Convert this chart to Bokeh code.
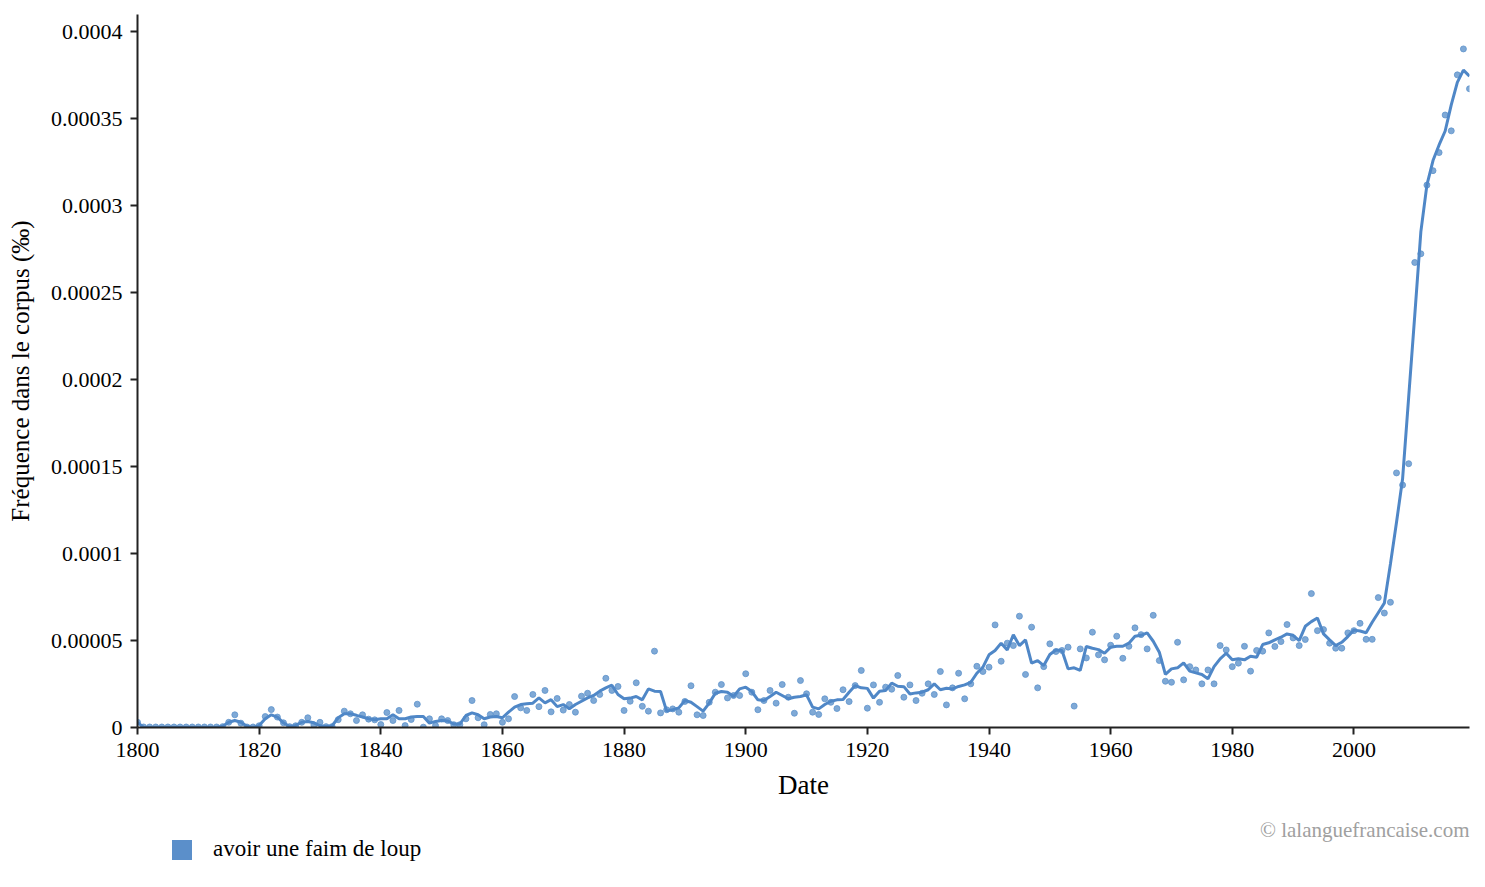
from bokeh.plotting import figure
from bokeh.layouts import column
from bokeh.models import (Range1d, FixedTicker, Legend, LegendItem, Label,
                          ColumnDataSource)
from bokeh.embed import file_html
from bokeh.resources import INLINE

# fréquence annuelle, en unités de 1e-5 (‰)
annees = list(range(1800, 2020))

points = [
    0.3, 0.03, 0.03, 0.03, 0.03, 0.03, 0.03, 0.03, 0.03, 0.03,      # 1800
    0.03, 0.03, 0.03, 0.03, 0.05, 0.3, 0.73, 0.25, 0.03, 0.03,      # 1810
    0.1, 0.63, 1.03, 0.6, 0.27, 0.05, 0.1, 0.3, 0.56, 0.15,         # 1820
    0.3, 0.05, 0.05, 0.45, 0.94, 0.79, 0.4, 0.73, 0.48, 0.44,       # 1830
    0.17, 0.86, 0.4, 0.98, 0.11, 0.46, 1.34, 0.02, 0.5, 0.11,       # 1840
    0.5, 0.4, 0.16, 0.16, 0.5, 1.55, 0.56, 0.16, 0.75, 0.79,        # 1850
    0.3, 0.5, 1.78, 1.13, 0.98, 1.9, 1.2, 2.13, 0.9, 1.67,          # 1860
    1.0, 1.32, 0.88, 1.8, 1.97, 1.55, 1.9, 2.83, 2.13, 2.36,        # 1870
    0.98, 1.51, 2.57, 1.22, 0.94, 4.39, 0.84, 1.02, 1.07, 0.88,     # 1880
    1.5, 2.4, 0.73, 0.69, 1.45, 2.03, 2.47, 1.7, 1.84, 1.84,        # 1890
    3.09, 2.03, 1.02, 1.55, 2.13, 1.4, 2.47, 1.74, 0.82, 2.7,       # 1900
    1.94, 0.88, 0.75, 1.65, 1.45, 1.09, 2.17, 1.49, 2.41, 3.28,     # 1910
    1.11, 2.45, 1.45, 2.32, 2.2, 2.99, 1.74, 2.45, 1.55, 1.97,      # 1920
    2.51, 1.9, 3.22, 1.3, 2.28, 3.12, 1.65, 2.51, 3.52, 3.22,       # 1930
    3.47, 5.9, 3.81, 4.85, 4.71, 6.4, 3.05, 5.77, 2.28, 3.5,        # 1940
    4.81, 4.37, 4.43, 4.62, 1.23, 4.52, 4.0, 5.48, 4.18, 3.89,      # 1950
    4.73, 5.25, 3.98, 4.67, 5.73, 5.34, 4.52, 6.45, 3.85, 2.66,     # 1960
    2.6, 4.9, 2.74, 3.5, 3.31, 2.51, 3.31, 2.51, 4.71, 4.46,        # 1970
    3.5, 3.7, 4.67, 3.24, 4.43, 4.39, 5.44, 4.66, 4.94, 5.92,       # 1980
    5.15, 4.71, 5.06, 7.7, 5.57, 5.63, 4.85, 4.56, 4.56, 5.44,      # 1990
    5.57, 5.99, 5.07, 5.07, 7.47, 6.58, 7.2, 14.64, 13.94, 15.17,   # 2000
    26.74, 27.24, 31.19, 32.02, 33.06, 35.22, 34.31, 37.53, 39.02, 36.73,  # 2010
]

courbe = [
    0.3, 0.0, 0.0, 0.0, 0.0, 0.0, 0.0, 0.0, 0.0, 0.0,               # 1800
    0.0, 0.0, 0.0, 0.0, 0.07, 0.3, 0.4, 0.3, 0.07, 0.0,             # 1810
    0.11, 0.5, 0.73, 0.6, 0.27, 0.06, 0.12, 0.3, 0.35, 0.27,        # 1820
    0.1, 0.06, 0.1, 0.56, 0.79, 0.79, 0.7, 0.6, 0.5, 0.45,          # 1830
    0.5, 0.5, 0.73, 0.5, 0.5, 0.6, 0.63, 0.63, 0.25, 0.35,          # 1840
    0.4, 0.38, 0.2, 0.2, 0.69, 0.84, 0.73, 0.5, 0.6, 0.63,          # 1850
    0.56, 0.88, 1.17, 1.32, 1.36, 1.4, 1.7, 1.42, 1.6, 1.2,         # 1860
    1.32, 1.07, 1.32, 1.51, 1.7, 1.84, 2.09, 2.28, 2.43, 1.9,       # 1870
    1.65, 1.69, 1.78, 1.59, 2.22, 2.09, 2.07, 0.94, 1.03, 1.13,     # 1880
    1.55, 1.45, 1.2, 0.94, 1.4, 1.97, 2.07, 2.03, 1.78, 2.22,       # 1890
    2.32, 2.07, 1.59, 1.55, 1.78, 2.03, 1.84, 1.65, 1.74, 1.78,     # 1900
    1.88, 1.17, 1.07, 1.32, 1.51, 1.59, 1.61, 2.03, 2.41, 2.28,     # 1910
    2.25, 1.69, 2.09, 2.13, 2.55, 2.37, 2.35, 1.93, 1.99, 2.03,     # 1920
    2.17, 2.51, 2.17, 2.26, 2.22, 2.36, 2.45, 2.6, 3.12, 3.47,      # 1930
    4.18, 4.43, 4.85, 4.46, 5.33, 4.71, 5.04, 3.7, 3.85, 3.56,      # 1940
    4.2, 4.46, 4.43, 3.37, 3.43, 3.28, 4.66, 4.56, 4.48, 4.27,      # 1950
    4.62, 4.67, 4.67, 4.85, 5.25, 5.3, 5.44, 4.96, 4.33, 3.05,      # 1960
    3.37, 3.43, 3.72, 3.24, 3.14, 3.05, 2.8, 3.5, 3.95, 4.27,       # 1970
    3.89, 3.95, 3.89, 4.1, 4.04, 4.77, 4.87, 5.04, 5.19, 5.38,      # 1980
    5.3, 5.0, 5.82, 6.09, 6.3, 5.38, 5.04, 4.71, 4.9, 5.23,         # 1990
    5.6, 5.55, 5.45, 6.05, 6.6, 7.15, 9.4, 11.8, 14.3, 19.0,        # 2000
    23.7, 28.5, 31.2, 32.6, 33.5, 34.3, 35.8, 37.1, 37.8, 37.45,    # 2010
]

x_ticks = [1800, 1820, 1840, 1860, 1880, 1900, 1920, 1940, 1960, 1980, 2000]
y_ticks = [0, 5, 10, 15, 20, 25, 30, 35, 40]
y_tick_labels = ["0", "0.00005", "0.0001", "0.00015", "0.0002",
                 "0.00025", "0.0003", "0.00035", "0.0004"]

serie = "avoir une faim de loup"
copyright_txt = "\u00a9 lalanguefrancaise.com"

BLEU = "#4f87c7"
POLICE = "Liberation Serif"
LARGEUR = 1480

p = figure(width=LARGEUR, height=817, output_backend="svg", toolbar_location=None,
           x_range=Range1d(1800, 2019), y_range=Range1d(0, 41),
           min_border_left=137, min_border_right=11, min_border_top=14,
           min_border_bottom=90)
p.outline_line_color = None
p.grid.visible = False

src = ColumnDataSource(dict(annee=annees, points=points, courbe=courbe))
p.scatter("annee", "points", source=src, size=6, color="#5f93cc", alpha=0.8)
p.line("annee", "courbe", source=src, line_color=BLEU, line_width=3)

for ax in (p.xaxis[0], p.yaxis[0]):
    ax.axis_line_color = "#222222"
    ax.axis_line_width = 2
    ax.major_tick_line_color = "#222222"
    ax.major_tick_line_width = 2
    ax.major_tick_out = 7
    ax.major_tick_in = 0
    ax.minor_tick_line_color = None
    ax.major_label_text_font = POLICE
    ax.major_label_text_font_size = "22px"
    ax.major_label_text_color = "black"
    ax.axis_label_text_font = POLICE
    ax.axis_label_text_font_style = "normal"
    ax.axis_label_text_color = "black"

p.xaxis.ticker = FixedTicker(ticks=x_ticks)
p.xaxis.axis_label = "Date"
p.xaxis.axis_label_text_font_size = "27px"
p.xaxis.major_label_standoff = 8
p.xaxis.axis_label_standoff = 10

p.yaxis.ticker = FixedTicker(ticks=y_ticks)
p.yaxis.major_label_overrides = dict(zip(y_ticks, y_tick_labels))
p.yaxis.axis_label = "Fréquence dans le corpus (‰)"
p.yaxis.axis_label_text_font_size = "25px"
p.yaxis.major_label_standoff = 8
p.yaxis.axis_label_standoff = 14

# bandeau du bas : légende + copyright (le cadre est aligné sur celui du graphique, x=137)
bas = figure(width=LARGEUR, height=65, output_backend="svg", toolbar_location=None,
             x_range=Range1d(0, 1), y_range=Range1d(0, 1),
             min_border=0)
bas.outline_line_color = None
bas.grid.visible = False
bas.axis.visible = False

# quad de taille nulle, seulement pour le carré de la légende
carre = bas.quad(left=[0], right=[0], top=[0], bottom=[0], fill_color="#5b8fca",
                 line_color=None)

legende = Legend(items=[LegendItem(label=serie, renderers=[carre])],
                 location=(32, 20), padding=0, margin=0, spacing=0,
                 glyph_width=25, glyph_height=25, label_height=25,
                 label_standoff=19, label_text_font=POLICE,
                 label_text_font_size="23px", label_text_color="black",
                 border_line_color=None, background_fill_alpha=0)
bas.add_layout(legende)

bas.add_layout(Label(x=1332, y=53, x_units="screen", y_units="screen",
                     text=copyright_txt, text_align="right",
                     text_baseline="middle", text_font=POLICE,
                     text_font_size="21px", text_color="#a0a0a0"))

page = column(p, bas, spacing=0)
open("out.html", "w").write(file_html(page, INLINE))
